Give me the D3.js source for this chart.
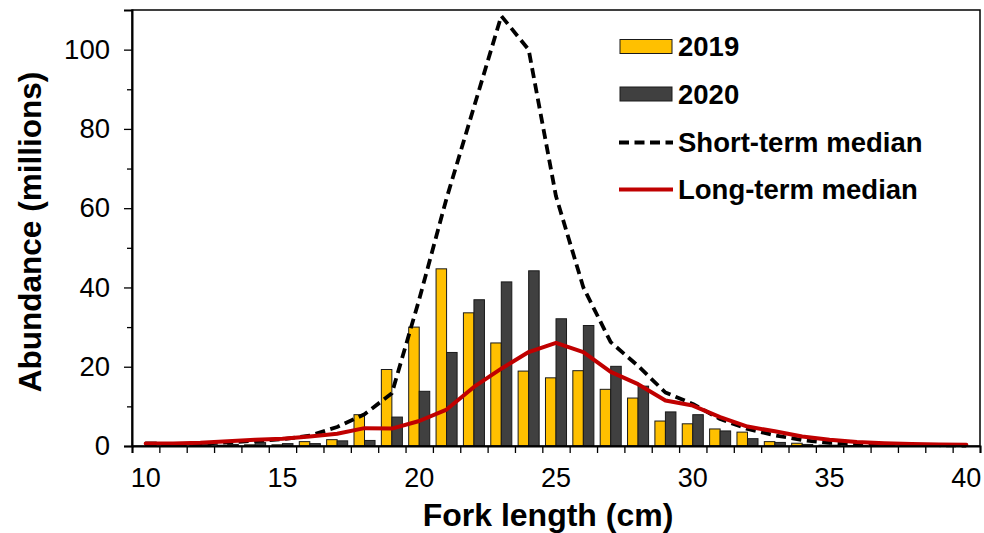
<!DOCTYPE html>
<html><head><meta charset="utf-8">
<script src="https://cdn.jsdelivr.net/npm/d3@7"></script>
<style>
body{margin:0;background:#fff}
svg{display:block}
text{font-family:"Liberation Sans",Arial,sans-serif}
</style>
</head><body>
<svg id="chart" width="984" height="533"></svg>
<script>
const categories = [10,11,12,13,14,15,16,17,18,19,20,21,22,23,24,25,26,27,28,29,30,31,32,33,34,35,36,37,38,39,40];
const values2019 = [0,0.1,0.2,0.2,0.3,0.3,1.1,1.6,7.9,19.3,30.0,44.7,33.6,26.0,18.9,17.2,19.0,14.3,12.1,6.3,5.6,4.3,3.5,1.1,0.7,0.2,0.1,0.1,0,0,0];
const values2020 = [1.0,0.3,0.5,0.4,0.85,0.6,0.6,1.3,1.4,7.3,13.8,23.6,36.9,41.4,44.2,32.1,30.4,20.1,15.1,8.6,7.9,3.8,1.85,0.9,0.4,0.2,0.1,0.1,0.05,0,0];
const shortTermMedian = [0.3,0.4,0.6,0.9,1.3,1.7,2.6,4.8,8.0,13.3,37,62.5,85.5,108.5,100,63,40,26.2,20.2,13.5,10.6,6.8,4.3,2.7,1.5,0.8,0.5,0.3,0.2,0.2,0.1];
const longTermMedian = [0.6,0.6,0.8,1.2,1.6,1.8,2.4,3.1,4.5,4.4,6.3,9.2,14.9,19.5,23.7,26.0,23.7,18.7,15.6,11.5,10.2,7.3,4.9,3.7,2.4,1.6,1.0,0.7,0.5,0.4,0.3];
const xTickLabels = [10,15,20,25,30,35,40];
const yTickLabels = [0,20,40,60,80,100];
const yMinorTicks = [10,30,50,70,90];
const seriesNames = ["2019","2020"];
const legendLabels = ["2019","2020","Short-term median","Long-term median"];

const svg = d3.select("#chart");
const L = 132, R = 980, T = 10, B = 446;

const x = d3.scaleBand().domain(categories).range([L, R]).paddingInner(0).paddingOuter(0);
const x1 = d3.scaleBand().domain(seriesNames).range([0, x.bandwidth()]).paddingInner(0).paddingOuter(0.3);
const xl = d3.scaleLinear().domain([categories[0]-0.5, categories[categories.length-1]+0.5]).range([L, R]);
const y = d3.scaleLinear().domain([0, 110]).range([B, T]);

const colors = {"2019":"#FFC000","2020":"#404040"};
const tableRows = categories.map((c,i)=>({c, "2019":values2019[i], "2020":values2020[i]}));

// bars
const g = svg.append("g");
g.selectAll("g.cat").data(tableRows).join("g")
  .attr("transform", d=>`translate(${x(d.c)},0)`)
  .selectAll("rect").data(d=>seriesNames.map(s=>({s, v:d[s]}))).join("rect")
  .attr("x", d=>x1(d.s))
  .attr("width", x1.bandwidth())
  .attr("y", d=>y(d.v))
  .attr("height", d=>B - y(d.v))
  .attr("fill", d=>colors[d.s])
  .attr("stroke", "#1a1a1a")
  .attr("stroke-width", 1);

// lines
const line = d3.line().x((d,i)=>x(categories[i]) + x.bandwidth()/2).y(d=>y(d));
svg.append("path").datum(shortTermMedian).attr("d", line)
  .attr("fill","none").attr("stroke","#000").attr("stroke-width",3.8)
  .attr("stroke-dasharray","10,5.5").attr("stroke-linejoin","round");
svg.append("path").datum(longTermMedian).attr("d", line)
  .attr("fill","none").attr("stroke","#C00000").attr("stroke-width",4)
  .attr("stroke-linejoin","round").attr("stroke-linecap","round");

// frame
svg.append("rect").attr("x",L).attr("y",T).attr("width",R-L).attr("height",B-T)
  .attr("fill","none").attr("stroke","#000").attr("stroke-width",1.5);

// x axis ticks at category boundaries
const boundaries = categories.map(c=>c-0.5).concat([categories[categories.length-1]+0.5]);
const xTicks = svg.append("g").attr("transform",`translate(0,${B})`)
  .call(d3.axisBottom(xl).tickValues(boundaries).tickFormat("").tickSize(7));
xTicks.select(".domain").attr("stroke-width",2);
xTicks.selectAll(".tick line").attr("stroke-width",1.3);
const xLab = svg.append("g").attr("transform",`translate(0,${B})`)
  .call(d3.axisBottom(x).tickValues(xTickLabels).tickSize(0).tickPadding(22));
xLab.select(".domain").remove();
xLab.selectAll("text").attr("font-size",27).attr("fill","#000");

// y axis
const yAx = svg.append("g").attr("transform",`translate(${L},0)`)
  .call(d3.axisLeft(y).tickValues(yTickLabels).tickSize(8).tickPadding(14));
yAx.select(".domain").attr("stroke-width",2);
yAx.selectAll(".tick line").attr("stroke-width",1.3);
yAx.selectAll("text").attr("font-size",27.5).attr("fill","#000");
const yMin = svg.append("g").attr("transform",`translate(${L},0)`)
  .call(d3.axisLeft(y).tickValues(yMinorTicks).tickSize(5).tickFormat(""));
yMin.select(".domain").remove();
yMin.selectAll(".tick line").attr("stroke-width",1.3);

// axis titles
svg.append("text").attr("x",548).attr("y",526).attr("text-anchor","middle")
  .attr("font-size",32).attr("font-weight","bold").text("Fork length (cm)");
svg.append("text").attr("transform","translate(41,232) rotate(-90)").attr("text-anchor","middle")
  .attr("font-size",31.5).attr("font-weight","bold").text("Abundance (millions)");

// legend
const legY = [46.5, 94, 142.5, 189.5];
const leg = svg.append("g");
legendLabels.forEach((lab,i)=>{
  const gy = legY[i];
  if(i<2){
    leg.append("rect").attr("x",620).attr("y",gy-7).attr("width",52).attr("height",14)
      .attr("fill",colors[seriesNames[i]]).attr("stroke","#1a1a1a").attr("stroke-width",1);
  } else if(i===2){
    leg.append("line").attr("x1",619).attr("x2",673).attr("y1",gy).attr("y2",gy)
      .attr("stroke","#000").attr("stroke-width",3.8).attr("stroke-dasharray","10,5.5");
  } else {
    leg.append("line").attr("x1",619).attr("x2",673).attr("y1",gy).attr("y2",gy)
      .attr("stroke","#C00000").attr("stroke-width",4);
  }
  leg.append("text").attr("x",678).attr("y",gy).attr("dy","0.36em")
    .attr("font-size",27.5).attr("font-weight","bold").text(lab);
});
</script>
</body></html>
